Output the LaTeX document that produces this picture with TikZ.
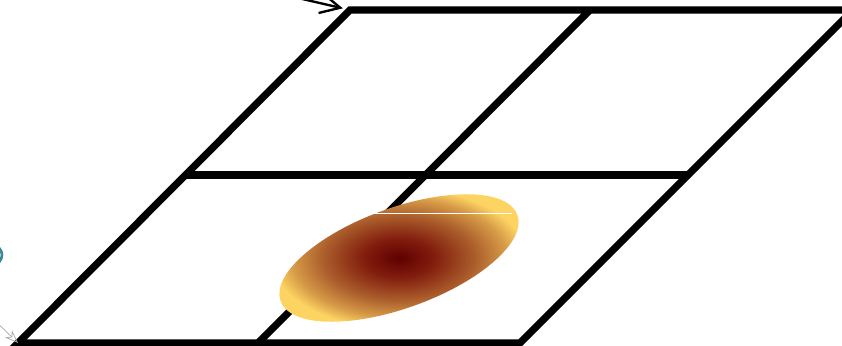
\documentclass[tikz,border=0pt]{standalone}
\usetikzlibrary{arrows.meta,shapes.geometric}
\definecolor{spotcore}{RGB}{95,0,0}
\definecolor{spotdeep}{RGB}{130,30,14}
\definecolor{spotmid}{RGB}{172,95,44}
\definecolor{spotwarm}{RGB}{215,155,72}
\definecolor{spotrim}{RGB}{253,212,98}
\definecolor{tealbit}{RGB}{58,138,154}
\pgfdeclareradialshading{spotshade}{\pgfpointorigin}{color(0bp)=(spotcore); color(7bp)=(spotdeep); color(15bp)=(spotmid); color(21bp)=(spotwarm); color(25bp)=(spotrim); color(50bp)=(spotrim)}
\begin{document}
\begin{tikzpicture}[x=0.03cm,y=-0.03cm,
  cell/.style={line width=6.2pt,line join=miter},
  pointer/.style={line width=2pt,shorten >=2.2mm,-{Straight Barb[length=6mm,width=6mm]}},
  blob/.style={ellipse,minimum width=7.56cm,minimum height=3cm,inner sep=0pt,shading=spotshade,rotate=20}
]
  \useasboundingbox (0,0) rectangle (842,346);
  \clip (0,0) rectangle (842,346);
  \coordinate (bl) at (18,343);
  \coordinate (bm) at (258,343);
  \coordinate (br) at (520,343);
  \coordinate (ml) at (186,175);
  \coordinate (mr) at (688,175);
  \coordinate (tl) at (350,10);
  \coordinate (tm) at (590,10);
  \coordinate (tr) at (853,10);
  \draw[cell] (bl) -- (br) -- (tr) -- (tl) -- cycle;
  \draw[cell] (ml) -- (mr);
  \draw[cell] (bm) -- (tm);
  \coordinate (tail) at (298,-2);
  \draw[pointer] (tail) -- (tl);
  \node[blob] (spot) at (399,258) {};
  \draw[white,line width=0.6pt] (352,213) -- (512,213);
  \coordinate (edgebit) at (-8,255);
  \draw[tealbit,line width=2.2pt] (edgebit) circle (10);
  \coordinate (sketch) at (-14,312);
  \draw[gray!70,line width=0.6pt,-{Stealth[open,length=4mm,width=3mm]}] (sketch) -- (bl);
\end{tikzpicture}
\end{document}
